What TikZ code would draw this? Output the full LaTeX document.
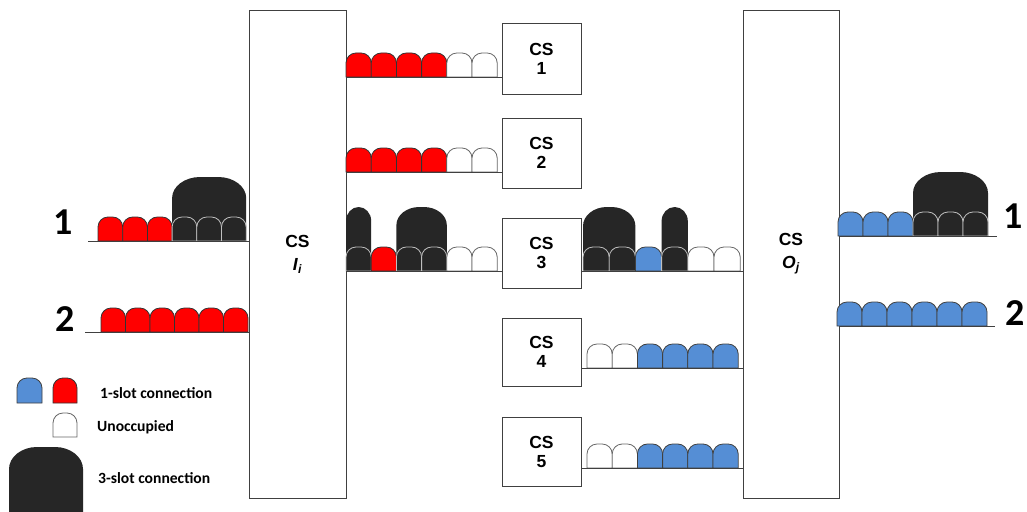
\documentclass[tikz,border=0pt]{standalone}
\usepackage{fontspec}
\setmainfont{Liberation Sans}
\newfontfamily\calfont{Carlito}
\definecolor{blk}{HTML}{262626}
\definecolor{sblue}{RGB}{85,142,213}
\definecolor{edge}{HTML}{404040}
\newcommand\dome[7]{%
 \path[#7] (#1,#2) -- (#1,{#2-#4+#6})
  .. controls (#1,{#2-#4+0.45*#6}) and ({#1+0.45*#5},{#2-#4}) .. ({#1+#5},{#2-#4})
  -- ({#1+#3-#5},{#2-#4})
  .. controls ({#1+#3-0.45*#5},{#2-#4}) and ({#1+#3},{#2-#4+0.45*#6}) .. ({#1+#3},{#2-#4+#6})
  -- ({#1+#3},#2) -- cycle;}
\newcommand\slotd[4]{\dome{#1}{#2}{#3}{24}{10}{10}{#4}}
\newcommand\slotrow[4]{%
 \foreach \st [count=\k from 0] in {#4} {\pgfmathsetmacro\xx{#1+\k*#3}\slotd{\xx}{#2}{#3}{\st}}}
\begin{document}
\begin{tikzpicture}[x=1pt,y=-1pt,
  slotR/.style={fill=red,draw=black!80,line width=0.8pt},
  slotB/.style={fill=sblue,draw=black!75,line width=0.8pt},
  slotW/.style={fill=white,draw=black!60,line width=0.8pt},
  slotK/.style={fill=blk,draw=black!25,line width=0.8pt},
  bigK/.style={fill=blk},
  baseln/.style={draw=edge,line width=0.9pt},
  bigbox/.style={draw=edge,line width=0.8pt,minimum height=488pt,inner sep=0pt,align=center,
    font=\fontsize{17.5}{23}\selectfont\bfseries},
  csbox/.style={draw=edge,line width=0.8pt,minimum width=79pt,inner sep=0pt,align=center,
    font=\fontsize{17.5}{19}\selectfont\bfseries},
  numlbl/.style={font=\calfont\fontsize{38}{38}\selectfont\bfseries,inner sep=0pt},
  legtxt/.style={font=\calfont\fontsize{15.6}{17}\selectfont\bfseries,anchor=west,inner sep=0pt}]
\clip (0,0) rectangle (1027,511);
\fill[white] (0,0) rectangle (1027,511);
% boxes
\node[bigbox,minimum width=97pt] (Ii) at (297.5,254) {CS\\\textit{I}\textsubscript{\textit{i}}};
\node[bigbox,minimum width=96pt] (Oj) at (791,254) {CS\\\textit{O}\textsubscript{\textit{j}}};
\node[csbox,minimum height=71pt] (cs1) at (541.5,58.5) {CS\\1};
\node[csbox,minimum height=70pt] (cs2) at (541.5,153) {CS\\2};
\node[csbox,minimum height=70pt] (cs3) at (541.5,253) {CS\\3};
\node[csbox,minimum height=68pt] (cs4) at (541.5,352) {CS\\4};
\node[csbox,minimum height=69pt] (cs5) at (541.5,451.5) {CS\\5};
% input 1
\dome{172.1}{241}{74.1}{64}{28}{21}{bigK}
\slotrow{98}{241}{24.7}{slotR,slotR,slotR,slotK,slotK,slotK}
% input 2
\slotrow{101}{332}{24.5}{slotR,slotR,slotR,slotR,slotR,slotR}
% to CS1, CS2
\slotrow{346}{77}{25.2}{slotR,slotR,slotR,slotR,slotW,slotW}
\slotrow{346}{172}{25.2}{slotR,slotR,slotR,slotR,slotW,slotW}
% to CS3
\dome{346}{271}{25.2}{64}{12.6}{14}{bigK}
\dome{396.4}{271}{50.4}{64}{23}{18}{bigK}
\slotrow{346}{271}{25.2}{slotK,slotR,slotK,slotK,slotW,slotW}
% CS3 out
\dome{583}{271}{52.4}{64}{24}{19}{bigK}
\dome{661.6}{271}{26.2}{64}{13.1}{14}{bigK}
\slotrow{583}{271}{26.2}{slotK,slotK,slotB,slotK,slotW,slotW}
% CS4, CS5 out
\slotrow{587}{368}{25.2}{slotW,slotW,slotB,slotB,slotB,slotB}
\slotrow{587}{468}{25.2}{slotW,slotW,slotB,slotB,slotB,slotB}
% output 1, 2
\dome{913}{236}{75}{64}{28}{21}{bigK}
\slotrow{838}{236}{25}{slotB,slotB,slotB,slotK,slotK,slotK}
\slotrow{837}{326}{25}{slotB,slotB,slotB,slotB,slotB,slotB}
% connector lines
\coordinate (in1) at (88,241);
\coordinate (in2) at (85,332);
\coordinate (out1) at (997,236);
\coordinate (out2) at (995,326);
\draw[baseln] (in1) -- (in1 -| Ii.west);
\draw[baseln] (in2) -- (in2 -| Ii.west);
\draw[baseln] (Ii.east |- 0,77) -- (cs1.west |- 0,77);
\draw[baseln] (Ii.east |- 0,172) -- (cs2.west |- 0,172);
\draw[baseln] (Ii.east |- 0,271) -- (cs3.west |- 0,271);
\draw[baseln] (cs3.east |- 0,271) -- (Oj.west |- 0,271);
\draw[baseln] (cs4.east |- 0,368) -- (Oj.west |- 0,368);
\draw[baseln] (cs5.east |- 0,468) -- (Oj.west |- 0,468);
\draw[baseln] (Oj.east |- out1) -- (out1);
\draw[baseln] (Oj.east |- out2) -- (out2);
% port labels
\node[numlbl] (p1) at (63,222) {1};
\node[numlbl] (p2) at (65,319) {2};
\node[numlbl] (q1) at (1013,216) {1};
\node[numlbl] (q2) at (1015,313) {2};
% legend
\dome{17}{403}{25}{25}{10}{10}{slotB}
\dome{53}{403}{24}{25}{10}{10}{slotR}
\dome{53}{437}{24}{24}{10}{10}{slotW}
\dome{9}{525}{74}{78}{28}{22}{bigK}
\node[legtxt] (l1) at (100,393) {1-slot connection};
\node[legtxt] (l2) at (97,427) {Unoccupied};
\node[legtxt] (l3) at (98,478) {3-slot connection};
\end{tikzpicture}
\end{document}
